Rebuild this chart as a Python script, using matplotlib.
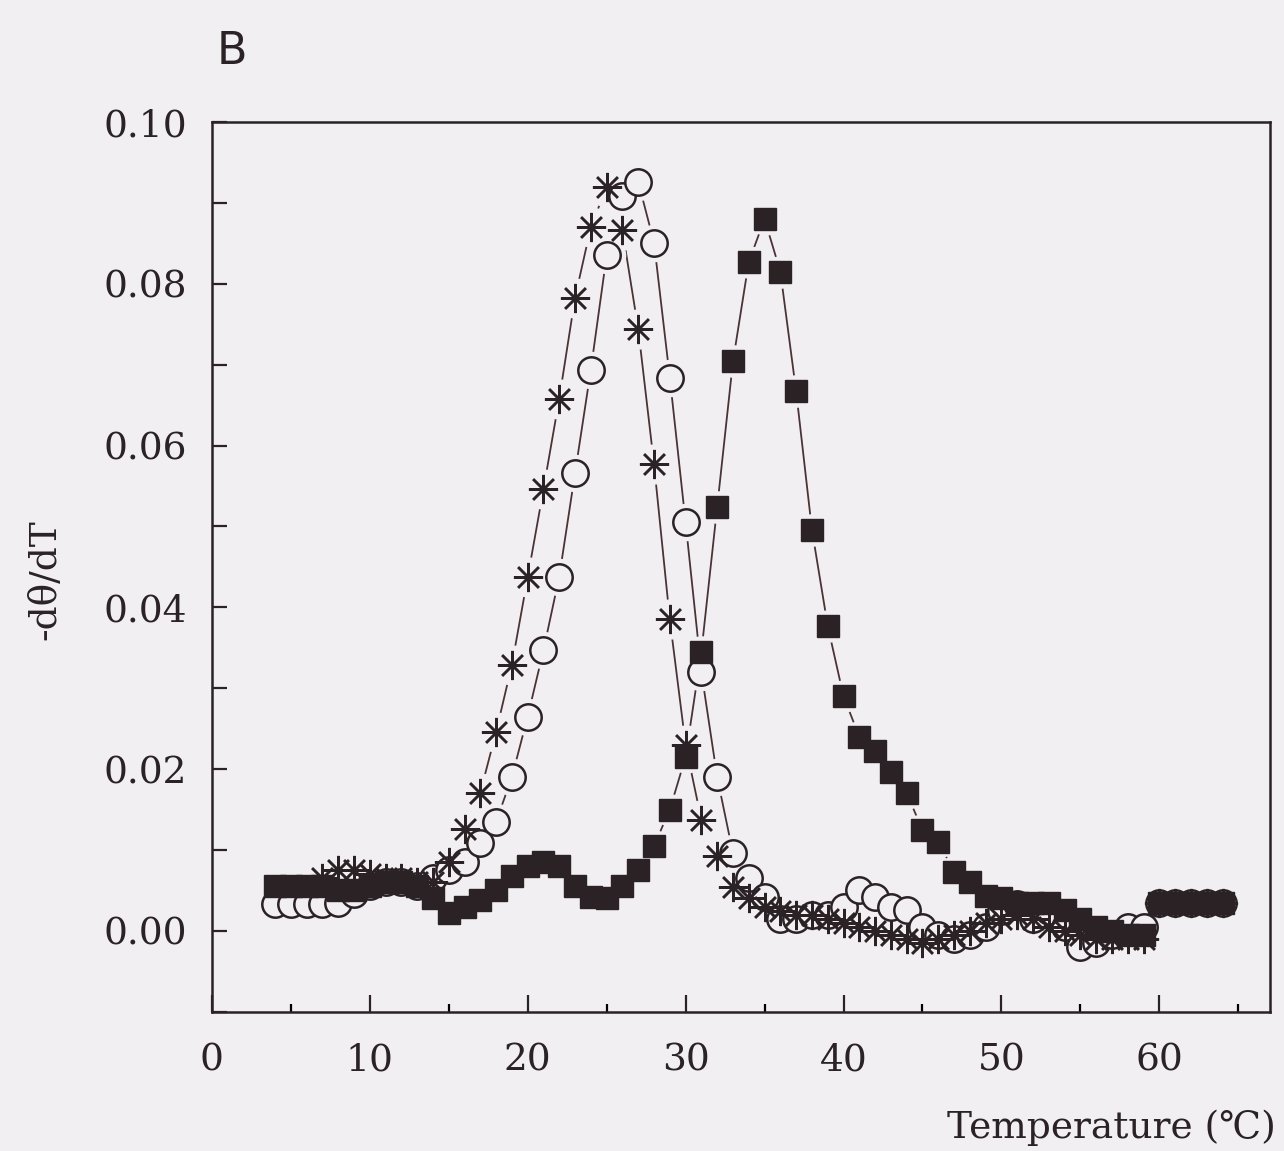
import numpy as np
import matplotlib
matplotlib.use('Agg')
import matplotlib.pyplot as plt
from matplotlib.ticker import MultipleLocator

# 데이터
temp_sq = list(range(4, 65))
val_sq = [0.0055, 0.0055, 0.0055, 0.0055, 0.005, 0.005, 0.0055, 0.006, 0.006, 0.0055,
          0.004, 0.0022, 0.003, 0.0038, 0.005, 0.0068, 0.008, 0.0085, 0.008, 0.0055,
          0.0042, 0.004, 0.0055, 0.0075, 0.0105, 0.015, 0.0215, 0.0345, 0.0524, 0.0704,
          0.0827, 0.088, 0.0815, 0.0667, 0.0496, 0.0377, 0.029, 0.024, 0.0222, 0.0196,
          0.017, 0.0125, 0.011, 0.0073, 0.006, 0.0043, 0.004, 0.0035, 0.0035, 0.0035,
          0.0026, 0.0015, 0.0005, 0.0, -0.0005, -0.0005, 0.0035, 0.0035, 0.0035, 0.0035,
          0.0035]

temp_ci = list(range(4, 65))
val_ci = [0.0033, 0.0033, 0.0033, 0.0033, 0.0035, 0.0045, 0.0055, 0.006, 0.006, 0.0055,
          0.0065, 0.0075, 0.0085, 0.0109, 0.0135, 0.019, 0.0265, 0.0347, 0.0438, 0.0566,
          0.0694, 0.0835, 0.0908, 0.0926, 0.0851, 0.0684, 0.0505, 0.032, 0.019, 0.0096,
          0.0065, 0.0042, 0.0015, 0.0015, 0.002, 0.002, 0.003, 0.005, 0.0042, 0.003,
          0.0026, 0.0005, -0.0005, -0.001, -0.0005, 0.0005, 0.0025, 0.0033, 0.0015, 0.0025,
          0.0005, -0.002, -0.0015, -0.0005, 0.0005, 0.0005, 0.0035, 0.0035, 0.0035, 0.0035,
          0.0035]

temp_st = list(range(7, 65))
val_st = [0.0065, 0.0075, 0.0075, 0.007, 0.0065, 0.0065, 0.006, 0.006, 0.0085, 0.0126,
          0.0171, 0.0246, 0.0329, 0.0437, 0.0546, 0.0658, 0.0783, 0.087, 0.092, 0.0866,
          0.0744, 0.0577, 0.0385, 0.023, 0.0137, 0.0092, 0.0054, 0.004, 0.003, 0.0025,
          0.002, 0.002, 0.0015, 0.001, 0.0005, 0.0, -0.0005, -0.001, -0.0015, -0.001,
          -0.0005, 0.0, 0.001, 0.0015, 0.002, 0.0015, 0.0005, 0.0, -0.0005, -0.001,
          -0.001, -0.001, -0.001, 0.0035, 0.0035, 0.0035, 0.0035, 0.0035]

bg = '#f2eff2'
ink = '#2a2224'
line_c = '#4a3336'

plt.rcParams['font.family'] = ['DejaVu Serif', 'DejaVu Sans']

fig = plt.figure(figsize = (12.84, 11.51), dpi = 100, facecolor = bg)
ax = fig.add_axes([0.165, 0.121, 0.824, 0.773])
ax.set_facecolor(bg)

# 그리는 순서: 원 -> 별 -> 사각형 (사각형이 맨 위)
series = [
    (temp_ci, val_ci, dict(marker = 'o', ms = 19, mfc = bg, mec = ink, mew = 1.8)),
    (temp_st, val_st, dict(marker = (8, 2, 0), ms = 21, mfc = ink, mec = ink, mew = 1.8)),
    (temp_sq, val_sq, dict(marker = 's', ms = 15.5, mfc = ink, mec = ink, mew = 1)),
]

# 선
for x, y, st in series:
    ax.plot(x, y, color = line_c, lw = 1.3, zorder = 1)
# 마커 주변 여백 (선이 마커 앞에서 끊기도록)
for x, y, st in series:
    ax.plot(x, y, ls = 'none', marker = 'o', ms = st['ms'] + 7,
            mfc = bg, mec = bg, zorder = 2)
# 마커
for i, (x, y, st) in enumerate(series):
    ax.plot(x, y, ls = 'none', zorder = 3 + i, **st)

ax.set_xlim(0, 67)
ax.set_ylim(-0.01, 0.10)
ax.xaxis.set_major_locator(MultipleLocator(10))
ax.xaxis.set_minor_locator(MultipleLocator(5))
ax.yaxis.set_major_locator(MultipleLocator(0.02))
ax.yaxis.set_minor_locator(MultipleLocator(0.01))
ax.yaxis.set_major_formatter(plt.FuncFormatter(lambda v, p: '%.2f' % v))

ax.tick_params(axis = 'x', which = 'major', direction = 'in', length = 12, width = 1.6,
               labelsize = 27, pad = 22, colors = ink)
ax.tick_params(axis = 'x', which = 'minor', direction = 'in', length = 6, width = 1.6)
ax.tick_params(axis = 'y', which = 'both', direction = 'in', length = 11, width = 1.6,
               labelsize = 27, pad = 18, colors = ink)
for s in ax.spines.values():
    s.set_linewidth(1.8)
    s.set_color(ink)

fig.text(45 / 1284, 1 - 580 / 1151, '-dθ/dT', rotation = 90, fontsize = 27,
         ha = 'center', va = 'center', color = ink)
fig.text(1276 / 1284, 1 - 1128 / 1151, 'Temperature (℃)', fontsize = 27,
         ha = 'right', va = 'center', color = ink)
fig.text(232 / 1284, 1 - 52 / 1151, 'B', fontsize = 32, family = 'DejaVu Sans',
         ha = 'center', va = 'center', color = ink)

fig.savefig('out.png', dpi = 100, facecolor = bg)
